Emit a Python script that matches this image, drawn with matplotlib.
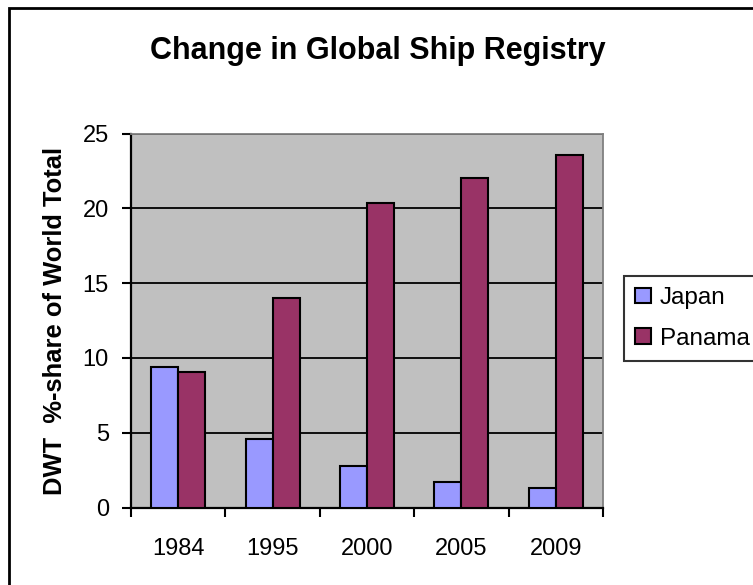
import matplotlib
matplotlib.use("Agg")
import matplotlib.pyplot as plt
import numpy as np
from matplotlib.patches import Rectangle

years = ["1984", "1995", "2000", "2005", "2009"]
japan = [9.37, 4.56, 2.79, 1.72, 1.32]
panama = [9.08, 14.02, 20.33, 22.05, 23.56]
series_names = ["Japan", "Panama"]
y_ticks = [0, 5, 10, 15, 20, 25]

plt.rcParams['font.family'] = ['Liberation Sans', 'DejaVu Sans']

W, H = 753, 585
fig = plt.figure(figsize=(W / 100, H / 100), dpi=100)
fig.patch.set_facecolor("white")

ax = fig.add_axes([131 / W, 1 - 507.5 / H, (603 - 131) / W, (507.5 - 133.5) / H])
ax.set_facecolor("#C0C0C0")

x = np.arange(len(years))
bw = 1 / 3.5
ax.bar(x - bw / 2, japan, bw, color="#9999FF", edgecolor="black", linewidth=1.5,
       label=series_names[0], zorder=3)
ax.bar(x + bw / 2, panama, bw, color="#993366", edgecolor="black", linewidth=1.5,
       label=series_names[1], zorder=3)

ax.set_xlim(-0.5, len(years) - 0.5)
ax.set_ylim(0, 25)
ax.set_yticks(y_ticks)
ax.set_yticklabels([str(v) for v in y_ticks], fontsize=17)
ax.set_xticks(x)
ax.set_xticklabels(years, fontsize=17)
ax.set_xticks(np.arange(len(years) + 1) - 0.5, minor=True)
ax.tick_params(axis="x", which="major", length=0, pad=22)
ax.tick_params(axis="x", which="minor", length=6.5, width=1.5, direction="out")
ax.tick_params(axis="y", which="major", length=6.5, width=1.5, direction="out", pad=9.5)

ax.yaxis.grid(True, color="black", linewidth=1.3, zorder=1)
ax.set_axisbelow(True)
for s in ["top", "right"]:
    ax.spines[s].set_color("#808080")
    ax.spines[s].set_linewidth(1.3)
for s in ["left", "bottom"]:
    ax.spines[s].set_color("black")
    ax.spines[s].set_linewidth(1.6)

ax.set_ylabel("DWT  %-share of World Total", fontsize=18.4, fontweight="bold")
ax.yaxis.set_label_coords((55 - 131) / (603 - 131), 0.5)
ax.yaxis.label.set_va("center")

fig.text(378 / W, 1 - 51 / H, "Change in Global Ship Registry", ha="center", va="center",
         fontsize=22, fontweight="bold")

leg = fig.legend(loc="upper left", bbox_to_anchor=(624 / W, 1 - 276 / H),
                 fontsize=17.5, frameon=True, fancybox=False, borderpad=0.45,
                 handlelength=0.66, handleheight=0.62, handletextpad=0.37,
                 labelspacing=0.77, borderaxespad=0)
leg.get_frame().set_edgecolor("black")
leg.get_frame().set_linewidth(1.5)

fig.patches.append(Rectangle((9 / W, -0.2), 1.5, (1 - 8 / H) + 0.2, transform=fig.transFigure,
                             fill=False, edgecolor="black", linewidth=2, clip_on=False))

fig.savefig("out.png", dpi=100)
